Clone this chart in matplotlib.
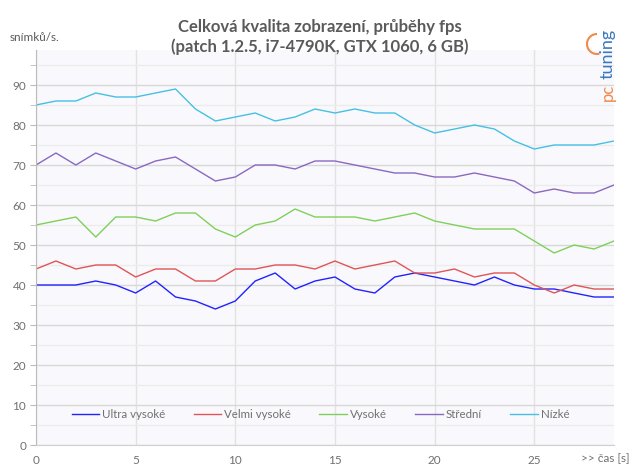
import numpy as np
import matplotlib.pyplot as plt
from matplotlib.patches import Arc

# x axis: seconds 0..29
cas = list(range(30))

ultra_vysoke = [40, 40, 40, 41, 40, 38, 41, 37, 36, 34, 36, 41, 43, 39, 41,
                42, 39, 38, 42, 43, 42, 41, 40, 42, 40, 39, 39, 38, 37, 37]
velmi_vysoke = [44, 46, 44, 45, 45, 42, 44, 44, 41, 41, 44, 44, 45, 45, 44,
                46, 44, 45, 46, 43, 43, 44, 42, 43, 43, 40, 38, 40, 39, 39]
vysoke = [55, 56, 57, 52, 57, 57, 56, 58, 58, 54, 52, 55, 56, 59, 57,
          57, 57, 56, 57, 58, 56, 55, 54, 54, 54, 51, 48, 50, 49, 51]
stredni = [70, 73, 70, 73, 71, 69, 71, 72, 69, 66, 67, 70, 70, 69, 71,
           71, 70, 69, 68, 68, 67, 67, 68, 67, 66, 63, 64, 63, 63, 65]
nizke = [85, 86, 86, 88, 87, 87, 88, 89, 84, 81, 82, 83, 81, 82, 84,
         83, 84, 83, 83, 80, 78, 79, 80, 79, 76, 74, 75, 75, 75, 76]

serie = [('Ultra vysoké', ultra_vysoke, '#2222ff'),
         ('Velmi vysoké', velmi_vysoke, '#e05555'),
         ('Vysoké', vysoke, '#7fd05a'),
         ('Střední', stredni, '#8a68c0'),
         ('Nízké', nizke, '#45c0e4')]

plt.rcParams['font.family'] = ['Lato', 'DejaVu Sans']

fig = plt.figure(figsize=(6.39, 4.76), dpi=100)
ax = fig.add_axes([36/639, 1-445/476, (614-36)/639, (445-50)/476])
ax.set_facecolor('#f9f9fd')

for nazev, hodnoty, barva in serie:
    ax.plot(cas, hodnoty, color=barva, lw=1.0, label=nazev)

ax.set_xlim(0, 29)
ax.set_ylim(0, 98.75)
ax.set_xticks(range(0, 30, 5))
ax.set_yticks(range(0, 100, 10))
ax.set_yticks(range(5, 100, 10), minor=True)

ax.grid(axis='y', which='major', color='#d8d8d8', lw=1)
ax.grid(axis='y', which='minor', color='#ececec', lw=1)
ax.grid(axis='x', which='major', color='#e2e2e2', lw=1)
ax.set_axisbelow(True)

for s in ['top', 'right']:
    ax.spines[s].set_visible(False)
ax.spines['left'].set_color('#bbbbbb')
ax.spines['bottom'].set_color('#d0d0d0')
ax.tick_params(axis='y', which='both', length=4, color='#bbbbbb',
               labelcolor='#707070', labelsize=8.5, pad=3)
ax.tick_params(axis='x', length=0, labelcolor='#707070', labelsize=8.5, pad=7)

leg = ax.legend(ncol=5, loc='center', bbox_to_anchor=(0.492, 7.5/98.75),
                frameon=False, fontsize=8.3, handlelength=2.4,
                handletextpad=0.25, columnspacing=2.45)
for t in leg.get_texts():
    t.set_color('#707070')

fig.text(0.5, 1-27/476, 'Celková kvalita zobrazení, průběhy fps',
         ha='center', va='center', fontsize=12, fontweight='bold', color='#5a5a5a')
fig.text(0.5, 1-47/476, '(patch 1.2.5, i7-4790K, GTX 1060, 6 GB)',
         ha='center', va='center', fontsize=12, fontweight='bold', color='#5a5a5a')
fig.text(10/639, 1-38/476, 'snímků/s.', ha='left', va='center',
         fontsize=8.5, color='#5a5a5a')
fig.text(630/639, 1-459/476, '>> čas [s]', ha='right', va='center',
         fontsize=8.5, color='#707070')

# logo
fig.text(608/639, 1-101/476, 'pc', rotation=90, ha='center', va='bottom',
         fontsize=12, color='#f08a4a')
fig.text(608/639, 1-79/476, 'tuning', rotation=90, ha='center', va='bottom',
         fontsize=13, color='#3a78c0')
fig.patches.append(Arc((597/639, 1-44/476), 20/639, 20/476, theta1=90, theta2=280,
                       transform=fig.transFigure, color='#f08a4a', lw=1.5))

fig.savefig('out.png', dpi=100)
